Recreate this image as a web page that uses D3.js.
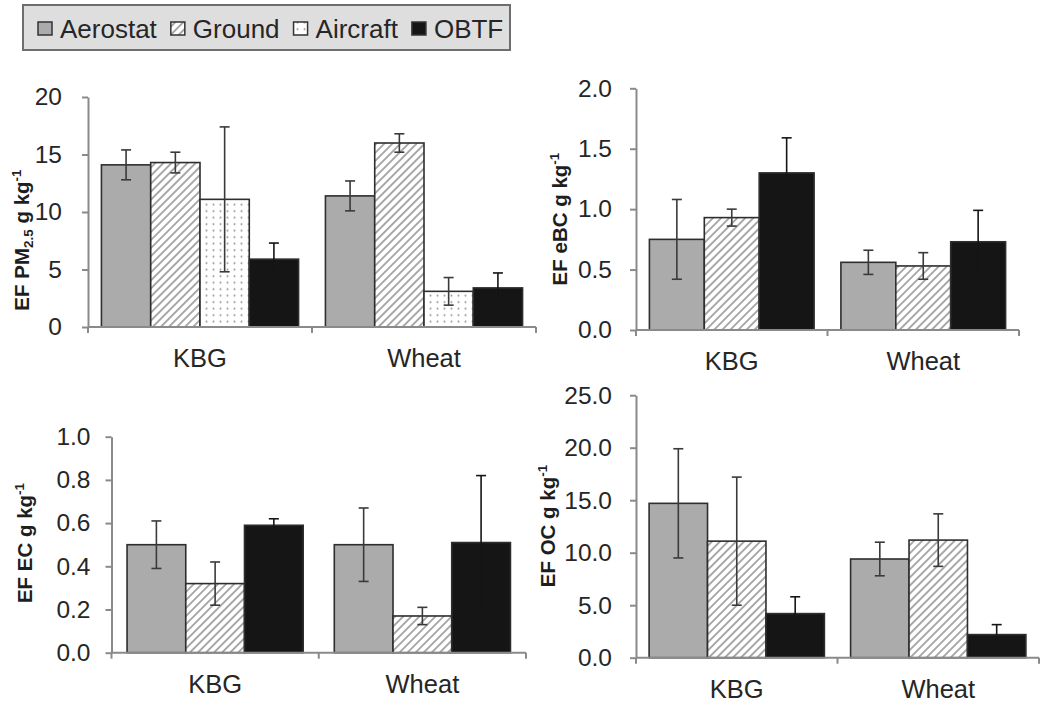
<!DOCTYPE html>
<html><head><meta charset="utf-8">
<script src="https://cdn.jsdelivr.net/npm/d3@7"></script>
<style>body{margin:0;background:#fff;} svg{display:block;font-family:"Liberation Sans",Arial,sans-serif;}</style>
</head><body><svg id="c" width="1050" height="705"></svg>
<script>
// ---------------- DATA ----------------
const categories = ["KBG", "Wheat"];
const seriesNames = ["Aerostat", "Ground", "Aircraft", "OBTF"];

// PM2.5 (Aerostat, Ground, Aircraft, OBTF)
const pm25Series = ["Aerostat", "Ground", "Aircraft", "OBTF"];
const pm25KBG = [14.1, 14.3, 11.1, 5.9];
const pm25Wheat = [11.4, 16.0, 3.1, 3.4];
const pm25ErrKBG = [1.3, 0.9, 6.3, 1.4];
const pm25ErrWheat = [1.3, 0.8, 1.2, 1.3];
const pm25Ticks = [0, 5, 10, 15, 20];

// eBC (Aerostat, Ground, OBTF)
const ebcSeries = ["Aerostat", "Ground", "OBTF"];
const ebcKBG = [0.75, 0.93, 1.30];
const ebcWheat = [0.56, 0.53, 0.73];
const ebcErrKBG = [0.33, 0.07, 0.29];
const ebcErrWheat = [0.10, 0.11, 0.26];
const ebcTicks = [0, 0.5, 1.0, 1.5, 2.0];

// EC (Aerostat, Ground, OBTF)
const ecSeries = ["Aerostat", "Ground", "OBTF"];
const ecKBG = [0.50, 0.32, 0.59];
const ecWheat = [0.50, 0.17, 0.51];
const ecErrKBG = [0.11, 0.10, 0.03];
const ecErrWheat = [0.17, 0.04, 0.31];
const ecTicks = [0, 0.2, 0.4, 0.6, 0.8, 1.0];

// OC (Aerostat, Ground, OBTF)
const ocSeries = ["Aerostat", "Ground", "OBTF"];
const ocKBG = [14.7, 11.1, 4.2];
const ocWheat = [9.4, 11.2, 2.2];
const ocErrKBG = [5.2, 6.1, 1.6];
const ocErrWheat = [1.6, 2.5, 0.95];
const ocTicks = [0, 5, 10, 15, 20, 25];

// ---------------- STYLE ----------------
const SX = 1.0; // horizontal text stretch
const AXIS = "#8a8a8a";
const TXT = "#262626";
const svg = d3.select("#c");
const defs = svg.append("defs");

const hs = 5.7;
const hatch = defs.append("pattern").attr("id", "hatch").attr("patternUnits", "userSpaceOnUse")
  .attr("width", hs).attr("height", hs).attr("patternTransform", "rotate(45)");
hatch.append("rect").attr("width", hs).attr("height", hs).attr("fill", "#fff");
hatch.append("line").attr("x1", hs / 2).attr("y1", 0).attr("x2", hs / 2).attr("y2", hs)
  .attr("stroke", "#8f8f8f").attr("stroke-width", 1.5);

const dots = defs.append("pattern").attr("id", "dots").attr("patternUnits", "userSpaceOnUse")
  .attr("width", 7).attr("height", 6.5);
dots.append("rect").attr("width", 7).attr("height", 6.5).attr("fill", "#fff");
dots.append("circle").attr("cx", 3.5).attr("cy", 3.2).attr("r", 1).attr("fill", "#9a9a9a");

const BLACK = "#151515";
const fills = { Aerostat: "#ababab", Ground: "url(#hatch)", Aircraft: "url(#dots)", OBTF: BLACK };

function stext(parent, x, y, str, size, anchor) {
  return parent.append("text")
    .attr("transform", `translate(${x},${y}) scale(${SX},1)`)
    .attr("text-anchor", anchor || "start")
    .attr("font-size", size).attr("fill", TXT).text(str);
}

// ---------------- LEGEND ----------------
const leg = svg.append("g");
leg.append("rect").attr("x", 23).attr("y", 5).attr("width", 487).attr("height", 45)
  .attr("fill", "#dedede").attr("stroke", "#6e6e6e").attr("stroke-width", 2);
let lx = 38;
seriesNames.forEach(s => {
  leg.append("rect").attr("x", lx).attr("y", 22).attr("width", 14).attr("height", 13)
    .attr("fill", fills[s]).attr("stroke", "#333").attr("stroke-width", 1.5);
  const t = stext(leg, lx + 22, 37.5, s, 26, "start");
  const w = t.node().getComputedTextLength() * SX;
  lx += 22 + w + 14;
});

// ---------------- PANELS ----------------
const panels = [
  { series: pm25Series, kbg: pm25KBG, wheat: pm25Wheat, ekbg: pm25ErrKBG, ewheat: pm25ErrWheat,
    ticks: pm25Ticks, fmt: d3.format("d"), domain: [0, 20],
    left: 88, right: 536, yTop: 97, y0: 327, pad: 0.12, labelEnd: -26,
    title: [["EF PM", 0], ["2.5", 1], [" g kg", 0], ["-1", 2]], tx: 29, ty: 240 },
  { series: ebcSeries, kbg: ebcKBG, wheat: ebcWheat, ekbg: ebcErrKBG, ewheat: ebcErrWheat,
    ticks: ebcTicks, fmt: d3.format(".1f"), domain: [0, 2],
    left: 636, right: 1019, yTop: 88.3, y0: 330, pad: 0.14, labelEnd: -24,
    title: [["EF eBC g kg", 0], ["-1", 2]], tx: 567, ty: 219 },
  { series: ecSeries, kbg: ecKBG, wheat: ecWheat, ekbg: ecErrKBG, ewheat: ecErrWheat,
    ticks: ecTicks, fmt: d3.format(".1f"), domain: [0, 1],
    left: 111.5, right: 526, yTop: 436.7, y0: 652.7, pad: 0.15, labelEnd: -21,
    title: [["EF EC g kg", 0], ["-1", 2]], tx: 32, ty: 543 },
  { series: ocSeries, kbg: ocKBG, wheat: ocWheat, ekbg: ocErrKBG, ewheat: ocErrWheat,
    ticks: ocTicks, fmt: d3.format(".1f"), domain: [0, 25],
    left: 636, right: 1039, yTop: 395.2, y0: 657.7, pad: 0.13, labelEnd: -24,
    title: [["EF OC g kg", 0], ["-1", 2]], tx: 555, ty: 526 }
];

panels.forEach(cfg => {
  const g = svg.append("g");
  const x0 = d3.scaleBand().domain(categories).range([cfg.left, cfg.right])
    .paddingInner(cfg.pad).paddingOuter(cfg.pad / 2);
  const x1 = d3.scaleBand().domain(cfg.series).range([0, x0.bandwidth()]);
  const y = d3.scaleLinear().domain(cfg.domain).range([cfg.y0, cfg.yTop]);

  const bars = [];
  categories.forEach((c, ci) => {
    const vals = ci === 0 ? cfg.kbg : cfg.wheat;
    const errs = ci === 0 ? cfg.ekbg : cfg.ewheat;
    cfg.series.forEach((s, si) => bars.push({ cat: c, s, v: vals[si], e: errs[si] }));
  });

  // bars
  g.selectAll("rect.bar").data(bars).join("rect").attr("class", "bar")
    .attr("x", d => x0(d.cat) + x1(d.s))
    .attr("y", d => y(d.v))
    .attr("width", x1.bandwidth())
    .attr("height", d => y(0) - y(d.v))
    .attr("fill", d => fills[d.s])
    .attr("stroke", "#2e2e2e").attr("stroke-width", 1.6);

  // error bars
  const eg = g.selectAll("g.err").data(bars).join("g").attr("class", "err")
    .attr("stroke", d => d.s === "OBTF" ? BLACK : "#3a3a3a").attr("stroke-width", 1.6);
  const cx = d => x0(d.cat) + x1(d.s) + x1.bandwidth() / 2;
  eg.append("line").attr("x1", cx).attr("x2", cx)
    .attr("y1", d => y(d.v + d.e)).attr("y2", d => y(Math.max(0, d.v - d.e)));
  eg.append("line").attr("x1", d => cx(d) - 5).attr("x2", d => cx(d) + 5)
    .attr("y1", d => y(d.v + d.e)).attr("y2", d => y(d.v + d.e));
  eg.append("line").attr("x1", d => cx(d) - 5).attr("x2", d => cx(d) + 5)
    .attr("y1", d => y(Math.max(0, d.v - d.e))).attr("y2", d => y(Math.max(0, d.v - d.e)));

  // y axis
  const ya = g.append("g").attr("transform", `translate(${cfg.left},0)`)
    .call(d3.axisLeft(y).tickValues(cfg.ticks).tickFormat(cfg.fmt).tickSize(6).tickSizeOuter(0));
  ya.select(".domain").attr("stroke", AXIS).attr("stroke-width", 2);
  ya.selectAll(".tick line").attr("stroke", AXIS).attr("stroke-width", 2);
  ya.selectAll(".tick text").attr("font-size", 24.5).attr("fill", TXT)
    .attr("font-family", '"Liberation Sans",Arial,sans-serif')
    .attr("x", cfg.labelEnd / SX).attr("transform", `scale(${SX},1)`);

  // x axis
  const xa = g.append("g").attr("stroke", AXIS).attr("stroke-width", 2);
  xa.append("line").attr("x1", cfg.left).attr("x2", cfg.right).attr("y1", y(0)).attr("y2", y(0));
  d3.range(categories.length + 1).forEach(i => {
    const tx = cfg.left + i * x0.step();
    xa.append("line").attr("x1", tx).attr("x2", tx).attr("y1", y(0)).attr("y2", y(0) + 6);
  });
  categories.forEach(c => stext(g, x0(c) + x0.bandwidth() / 2, y(0) + 40, c, 25.5, "middle"));

  // y title
  const t = g.append("text")
    .attr("transform", `translate(${cfg.tx},${cfg.ty}) scale(${SX},1) rotate(-90)`)
    .attr("text-anchor", "middle").attr("font-weight", "bold").attr("font-size", 20.5).attr("fill", "#1e1e1e");
  let shift = 0;
  cfg.title.forEach(([str, kind]) => {
    const target = kind === 1 ? 4 : kind === 2 ? -8 : 0;
    t.append("tspan").attr("dy", target - shift).attr("font-size", kind ? 13.5 : 20.5).text(str);
    shift = target;
  });
});
</script>
</body></html>
